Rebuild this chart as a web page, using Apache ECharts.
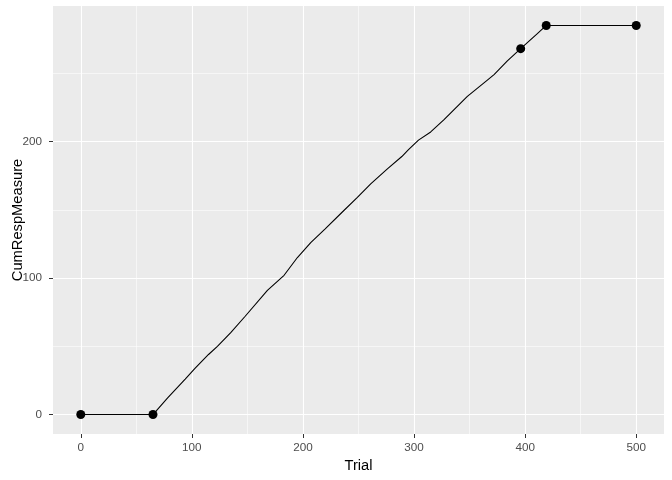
<!DOCTYPE html>
<html>
<head>
<meta charset="utf-8">
<script src="https://cdn.jsdelivr.net/npm/echarts@6/dist/echarts.min.js"></script>
<style>
  html, body { margin: 0; padding: 0; background: #fff; }
  #chart { width: 672px; height: 480px; }
</style>
</head>
<body>
<div id="chart"></div>
<script>
// cumulative curve
var trial = [0, 65, 78, 94, 103, 115, 123, 135, 148, 168, 183, 195, 207, 220, 235, 249, 261, 276, 289, 295, 304, 315, 327, 348, 366, 372, 384, 396, 411, 419, 500]
var cumResp = [0, 0, 12, 26, 34, 44, 50, 60, 72, 91, 102, 115, 126, 136, 148, 159, 169, 180, 189, 194, 201, 207, 216, 233, 245, 249, 259, 268, 279, 285, 285]

// highlighted points
var pointTrial = [0, 65, 396, 419, 500]
var pointResp = [0, 0, 268, 285, 285]

var xTicks = [0, 100, 200, 300, 400, 500]
var xMinor = [50, 150, 250, 350, 450]
var yTicks = [0, 100, 200]
var yMinor = [50, 150, 250]

var font = 'Liberation Sans, Arial, sans-serif'

function gridLines(xs, ys, width) {
  var lines = []
  xs.forEach(function (v) { lines.push({ xAxis: v }) })
  ys.forEach(function (v) { lines.push({ yAxis: v }) })
  return {
    silent: true,
    z: 1,
    symbol: 'none',
    label: { show: false },
    lineStyle: { color: '#ffffff', width: width, type: 'solid' },
    emphasis: { disabled: true },
    animation: false,
    data: lines
  }
}

var chart = echarts.init(document.getElementById('chart'))

var option = {
  animation: false,
  backgroundColor: '#ffffff',
  grid: {
    left: 53,
    right: 8,
    top: 6,
    bottom: 46,
    outerBoundsMode: 'none',
    containLabel: false,
    show: true,
    backgroundColor: '#EBEBEB',
    borderWidth: 0
  },
  xAxis: {
    type: 'value',
    min: -25,
    max: 525,
    name: 'Trial',
    nameLocation: 'middle',
    nameGap: 24,
    nameMoveOverlap: false,
    nameTextStyle: { fontFamily: font, fontSize: 14.7, color: '#000' },
    axisLine: { show: true, onZero: false, lineStyle: { color: 'rgba(0,0,0,0)' } },
    axisTick: { show: true, length: 4, customValues: xTicks, lineStyle: { color: '#333333', width: 1 } },
    axisLabel: { customValues: xTicks, fontFamily: font, fontSize: 11.7, color: '#4D4D4D', margin: 8 },
    splitLine: { show: false }
  },
  yAxis: {
    type: 'value',
    min: -14.25,
    max: 299.25,
    name: 'CumRespMeasure',
    nameLocation: 'middle',
    nameGap: 28,
    nameMoveOverlap: false,
    nameTextStyle: { fontFamily: font, fontSize: 14.7, color: '#000' },
    axisLine: { show: true, onZero: false, lineStyle: { color: 'rgba(0,0,0,0)' } },
    axisTick: { show: true, length: 4, customValues: yTicks, lineStyle: { color: '#333333', width: 1 } },
    axisLabel: { customValues: yTicks, fontFamily: font, fontSize: 11.7, color: '#4D4D4D', margin: 11 },
    splitLine: { show: false }
  },
  series: [
    {
      type: 'line',
      data: [],
      z: 1,
      markLine: gridLines(xMinor, yMinor, 0.55)
    },
    {
      type: 'line',
      data: [],
      z: 1,
      markLine: gridLines(xTicks, yTicks, 1.1)
    },
    {
      name: 'CumRespMeasure',
      type: 'line',
      data: trial.map(function (t, i) { return [t, cumResp[i]] }),
      showSymbol: false,
      symbol: 'none',
      lineStyle: { color: '#000', width: 1.1 },
      z: 3
    },
    {
      type: 'scatter',
      data: pointTrial.map(function (t, i) { return [t, pointResp[i]] }),
      symbol: 'circle',
      symbolSize: 9,
      itemStyle: { color: '#000', opacity: 1 },
      z: 4
    }
  ]
}

chart.setOption(option)
</script>
</body>
</html>
